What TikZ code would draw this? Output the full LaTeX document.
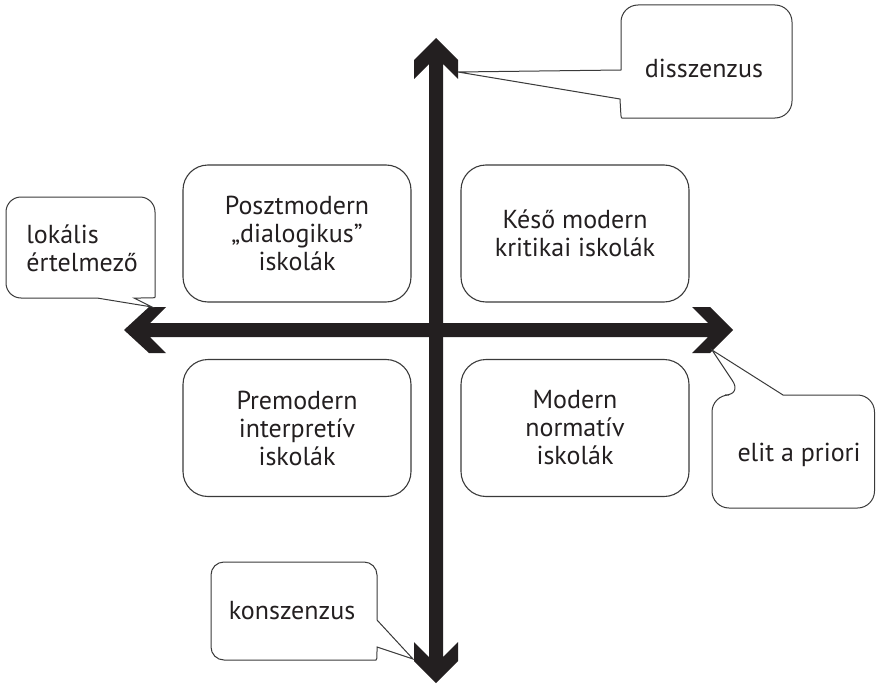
\documentclass[tikz,border=0pt]{standalone}
\usepackage{fontspec}
\setmainfont{PT Sans}
\definecolor{ink}{HTML}{231F20}
\definecolor{edge}{HTML}{3A3A3A}
\newcommand{\txtfont}{\fontsize{26}{28}\selectfont}
\begin{document}
\begin{tikzpicture}[x=1pt,y=-1pt,
  quad/.style={draw=edge, line width=1.1pt, rounded corners=25pt,
    minimum width=228pt, minimum height=137pt, align=center,
    font=\txtfont, text=ink},
  lbl/.style={font=\txtfont, text=ink, inner sep=0pt},
  co/.style={draw=edge, line width=1pt, line join=miter},
  axis/.style={fill=ink}]
\useasboundingbox (0,0) rectangle (876,685);
% quadrant boxes
\node[quad] (pm)  at (297,233.5) {Posztmodern\\„dialogikus”\\iskolák};
\node[quad] (km)  at (575,233.5) {Késő modern\\kritikai iskolák};
\node[quad] (pre) at (297,428) {Premodern\\interpretív\\iskolák};
\node[quad] (mod) at (575,428) {Modern\\normatív\\iskolák};
% axes
\fill[axis] (436,38) -- (458,60) -- (458,79) -- (443,64) -- (443,657)
  -- (458,642) -- (458,661) -- (436,683) -- (414,661) -- (414,642)
  -- (429,657) -- (429,64) -- (414,79) -- (414,60) -- cycle;
\fill[axis] (124,330) -- (149,307) -- (166,307) -- (150,323) -- (708,323)
  -- (692,307) -- (710,307) -- (733,330) -- (710,353) -- (692,353)
  -- (708,337) -- (150,337) -- (166,353) -- (149,353) -- cycle;
% callouts
\node[lbl] (dis) at (704,68) {disszenzus};
\draw[co] (621,70) {[rounded corners=17pt] -- (621,5) -- (792,5) -- (792,118)
  -- (639,118)} .. controls (621,118) .. (620,99) -- (458,72) -- cycle;
\node[lbl, align=left] (lok) at (82,248) {lokális\\értelmező};
\draw[co] (97,298) {[rounded corners=15pt] -- (6,298) -- (6,197) -- (155,197)
  -- (155,282)} .. controls (155,298) .. (134,298) -- (152,307) -- cycle;
\node[lbl] (elit) at (799,455) {elit a priori};
\draw[co] (783,395) {[rounded corners=17pt] -- (874.5,395) -- (874.5,508)
  -- (712,508) -- (712,395) -- (742,395)} -- (712,350) -- cycle;
\node[lbl] (kon) at (292,611) {konszenzus};
\draw[co] (377,620) {[rounded corners=13pt] -- (377,562) -- (211,562)
  -- (211,660) -- (363,660)} .. controls (377,660) .. (377,647) -- (413,659) -- cycle;
\end{tikzpicture}
\end{document}
